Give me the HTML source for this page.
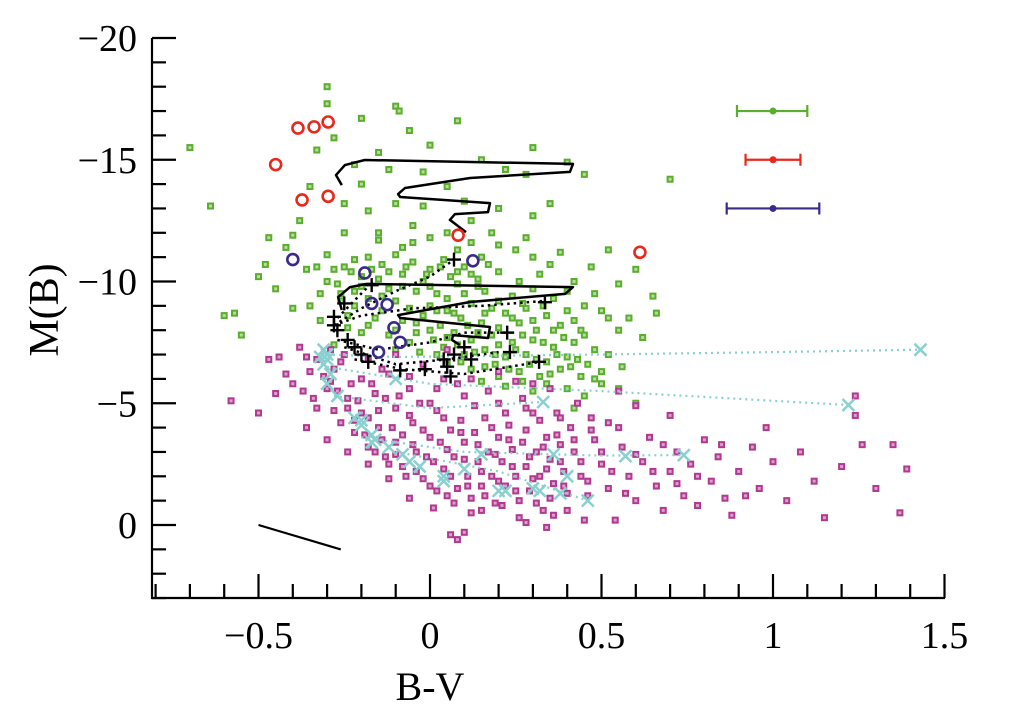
<!DOCTYPE html>
<html><head><meta charset="utf-8"><style>
html,body{margin:0;padding:0;background:#fff;}
svg{display:block;font-family:"Liberation Serif",serif;}
</style></head><body>
<svg id="chart" width="1027" height="724" viewBox="0 0 1027 724" xmlns="http://www.w3.org/2000/svg">
<g id="marks"></g>
<g id="axes"></g>
</svg>
<script>
const xTicks=[-0.5,0,0.5,1,1.5];
const xTickLabels=["\u22120.5","0","0.5","1","1.5"];
const yTicks=[-20,-15,-10,-5,0];
const yTickLabels=["\u221220","\u221215","\u221210","\u22125","0"];
const greenPts=[[-0.7,-15.5],[-0.64,-13.1],[-0.57,-8.7],[-0.5,-10.2],[-0.47,-11.8],[-0.48,-10.7],[-0.42,-11.4],[-0.38,-12.5],[-0.35,-13.9],[-0.33,-15.4],[-0.3,-18.0],[-0.3,-17.3],[-0.28,-15.9],[-0.2,-16.7],[-0.1,-17.2],[-0.09,-17.0],[-0.06,-16.2],[0.08,-16.6],[0.0,-15.6],[-0.15,-15.3],[-0.22,-14.8],[-0.12,-14.6],[-0.02,-14.5],[0.05,-13.9],[0.15,-15.0],[0.22,-14.6],[0.28,-14.4],[0.35,-13.2],[0.4,-14.9],[0.45,-14.4],[0.7,-14.2],[0.52,-11.3],[0.6,-10.5],[0.65,-9.4],[0.66,-8.7],[0.55,-9.9],[0.5,-8.8],[0.42,-10.0],[0.38,-11.2],[0.30,-12.7],[0.25,-11.3],[0.18,-12.0],[0.12,-12.5],[-0.05,-12.3],[-0.1,-13.2],[-0.18,-12.9],[-0.25,-12.0],[-0.3,-11.1],[-0.33,-10.6],[-0.36,-10.5],[-0.45,-9.7],[-0.6,-8.6],[-0.55,-7.8],
[-0.25,-10.6],[-0.22,-10.9],[-0.18,-11.0],[-0.14,-10.7],[-0.1,-11.1],[-0.05,-10.8],[0.0,-10.5],[0.04,-10.9],[0.1,-10.6],[-0.2,-10.2],[-0.15,-10.1],[-0.08,-10.3],[-0.02,-10.0],[0.06,-10.2],[0.14,-10.1],[0.2,-10.4],[0.26,-10.0],[0.32,-10.3],[-0.27,-9.9],[-0.22,-9.6],[-0.12,-9.7],[-0.04,-9.6],[0.02,-9.5],[0.08,-9.9],[0.16,-9.6],[0.24,-9.4],[0.3,-9.7],[0.36,-9.3],[-0.26,-9.2],[-0.18,-9.3],[-0.1,-9.2],[-0.06,-8.9],[0.0,-9.0],[0.05,-8.8],[0.12,-9.1],[0.18,-8.9],[0.22,-8.7],[0.28,-8.9],[0.34,-8.6],[0.4,-8.8],[-0.24,-8.6],[-0.16,-8.5],[-0.08,-8.4],[-0.02,-8.6],[0.03,-8.2],[0.09,-8.5],[0.15,-8.3],[0.2,-8.1],[0.26,-8.3],[0.31,-8.0],[0.38,-8.2],[0.44,-8.0],[-0.2,-7.9],[-0.12,-7.8],[-0.04,-7.9],[0.01,-7.6],[0.07,-7.9],[0.12,-7.6],[0.18,-7.8],[0.24,-7.5],[0.3,-7.6],[0.36,-7.3],[0.42,-7.5],[0.48,-7.2],[-0.1,-7.2],[-0.03,-7.1],[0.04,-7.3],[0.1,-7.0],[0.16,-7.2],[0.22,-6.9],[0.28,-7.0],[0.34,-6.7],[0.4,-6.9],[0.46,-6.6],[0.52,-7.0],[0.05,-6.6],[0.12,-6.4],[0.19,-6.6],[0.26,-6.3],[0.32,-6.1],[0.38,-6.4],[0.44,-6.1],[0.5,-6.3],[0.56,-6.5],[0.15,-5.9],[0.22,-5.7],[0.3,-5.5],[0.45,-5.3],[0.55,-5.6],[0.6,-5.0],[0.42,-4.8],[-0.3,-10.0],[-0.35,-9.0],[-0.4,-8.9],[-0.32,-8.4],[-0.28,-7.4],[0.48,-9.5],[0.58,-8.5],[0.62,-7.7],[0.55,-8.0],[0.47,-10.6],[0.2,-11.5],[0.28,-11.8],[-0.05,-11.6],[0.08,-11.3],[-0.15,-11.7],
[-0.23,-10.4],[-0.17,-10.5],[-0.12,-10.4],[-0.07,-10.6],[-0.01,-10.3],[0.03,-10.6],[0.08,-10.4],[0.12,-10.3],[0.17,-10.7],[-0.26,-9.5],[-0.2,-9.8],[-0.14,-9.4],[-0.08,-9.8],[0.0,-9.8],[0.05,-9.3],[0.1,-9.5],[0.14,-9.8],[0.2,-9.2],[0.27,-9.1],[0.33,-9.0],[-0.22,-9.0],[-0.14,-8.8],[-0.04,-8.3],[0.02,-8.8],[0.07,-8.7],[0.11,-8.2],[0.16,-8.7],[0.24,-8.5],[0.3,-8.4],[0.36,-8.0],[0.42,-8.4],[-0.18,-8.2],[-0.1,-8.0],[0.0,-8.0],[0.05,-7.7],[0.14,-7.9],[0.2,-7.4],[0.27,-7.8],[0.33,-7.5],[0.39,-7.7],[0.45,-7.8],[-0.06,-7.5],[0.02,-7.0],[0.08,-7.4],[0.13,-7.1],[0.19,-7.0],[0.25,-7.2],[0.31,-6.8],[0.37,-7.0],[0.43,-6.8],[0.09,-6.7],[0.16,-6.5],[0.23,-6.4],[0.29,-6.6],[0.35,-6.2],[0.41,-6.5],[0.48,-6.0],[0.2,-6.1],[0.27,-5.9],[0.34,-5.8],[0.4,-5.6],[0.5,-5.8],[-0.15,-12.0],[0.0,-11.8],[0.12,-11.6],[0.3,-11.0],[0.15,-11.0],[-0.08,-11.4],[0.35,-10.7],[0.4,-9.6],[0.45,-9.0],[0.52,-8.5],[-0.28,-10.5],[-0.32,-9.5],[-0.24,-8.1],[0.1,-13.3],[0.2,-13.0],[-0.02,-13.1],[-0.2,-14.0],[0.3,-15.5],[0.05,-12.0],[-0.25,-13.2],[-0.4,-11.9]];
const magentaPts=[[-0.58,-5.1],[-0.5,-4.6],[-0.47,-6.8],[-0.44,-6.9],[-0.4,-5.8],[-0.38,-7.3],[-0.35,-6.3],[-0.33,-4.8],[-0.3,-5.6],[-0.3,-3.5],[-0.28,-6.4],[-0.26,-4.2],[-0.24,-5.2],[-0.22,-3.8],[-0.2,-6.0],[-0.2,-4.6],[-0.18,-3.2],[-0.16,-5.4],[-0.15,-4.0],[-0.13,-2.8],[-0.12,-6.2],[-0.1,-4.8],[-0.1,-3.4],[-0.08,-2.4],[-0.06,-5.6],[-0.05,-4.2],[-0.04,-3.0],[-0.02,-1.9],[0.0,-5.0],[0.0,-3.6],[0.01,-2.6],[0.02,-1.4],[0.04,-4.4],[0.05,-3.1],[0.06,-2.0],[0.07,-0.9],[0.08,-5.8],[0.09,-3.8],[0.1,-2.7],[0.11,-1.6],[0.12,-0.5],[0.13,-4.9],[0.14,-3.3],[0.15,-2.2],[0.16,-1.2],[0.17,-5.5],[0.18,-4.0],[0.19,-2.9],[0.2,-1.8],[0.21,-0.8],[0.22,-4.6],[0.23,-3.5],[0.24,-2.4],[0.25,-1.4],[0.26,-0.3],[0.27,-5.2],[0.28,-3.9],[0.29,-2.8],[0.3,-1.9],[0.31,-0.9],[0.32,-4.3],[0.33,-3.2],[0.34,-2.3],[0.35,-1.1],[0.36,-0.4],[0.37,-3.7],[0.38,-2.6],[0.39,-1.6],[0.4,-0.6],[0.41,-4.0],[0.42,-3.0],[0.44,-2.0],[0.46,-1.2],[0.48,-3.5],[0.5,-2.5],[0.52,-1.5],[0.54,-0.2],[0.56,-3.2],[0.58,-2.0],[0.6,-1.0],[0.62,-2.6],[0.64,-3.6],[0.66,-1.6],[0.68,-0.6],[0.7,-2.2],[0.72,-3.0],[0.74,-1.2],[0.76,-2.5],[0.78,-0.8],[0.8,-3.5],[0.82,-1.8],[0.84,-2.8],[0.86,-1.1],[0.88,-0.4],[0.9,-2.2],[0.94,-3.2],[0.96,-1.5],[1.0,-2.6],[1.04,-1.0],[1.08,-3.0],[1.12,-1.8],[1.15,-0.3],[1.2,-2.4],[1.24,-4.5],[1.26,-3.3],[1.3,-1.5],[1.35,-3.3],[1.37,-0.5],[1.39,-2.3],[1.24,-5.3],[0.98,-4.0],[0.7,-4.5],[0.6,-4.9],[0.55,-5.5],[-0.25,-7.0],[-0.18,-6.8],[-0.1,-7.0],[-0.02,-6.6],[0.05,-7.2],[0.12,-6.0],[0.2,-6.3],[0.3,-5.8],[0.15,-0.6],[0.08,0.6],[0.1,0.3],[0.06,0.4],[0.01,-0.7],[-0.06,-1.1],[-0.12,-1.9],[-0.18,-2.5],[-0.24,-3.0],[-0.28,-4.7],[-0.34,-5.2],[-0.36,-4.0],[0.43,-5.0],[0.47,-4.4],[0.52,-4.2],[0.35,-5.6],[0.25,-5.9],[0.45,-0.2],[0.34,0.1],[0.28,-0.1],
[-0.33,-6.8],[-0.31,-6.1],[-0.29,-5.9],[-0.27,-5.5],[-0.26,-6.7],[-0.24,-4.8],[-0.23,-5.8],[-0.22,-4.3],[-0.21,-5.1],[-0.19,-3.7],[-0.18,-4.4],[-0.17,-5.8],[-0.16,-3.0],[-0.15,-4.7],[-0.14,-3.5],[-0.13,-5.2],[-0.12,-2.5],[-0.11,-4.0],[-0.1,-2.9],[-0.09,-5.3],[-0.08,-3.7],[-0.07,-2.0],[-0.06,-4.5],[-0.05,-3.3],[-0.04,-2.2],[-0.03,-5.0],[-0.02,-3.9],[-0.01,-2.8],[0.0,-1.6],[0.02,-4.7],[0.03,-3.4],[0.04,-2.3],[0.05,-1.2],[0.06,-3.9],[0.07,-2.8],[0.08,-1.5],[0.09,-4.3],[0.1,-3.4],[0.11,-2.0],[0.12,-1.1],[0.13,-3.8],[0.14,-2.6],[0.15,-1.6],[0.16,-4.4],[0.17,-3.0],[0.18,-2.0],[0.19,-0.9],[0.2,-3.6],[0.21,-2.6],[0.22,-1.6],[0.23,-4.1],[0.24,-3.1],[0.25,-2.0],[0.26,-1.0],[0.27,-3.4],[0.28,-2.4],[0.29,-1.4],[0.3,-4.6],[0.31,-3.0],[0.32,-2.0],[0.33,-0.6],[0.34,-3.6],[0.35,-2.7],[0.36,-1.7],[0.37,-4.6],[0.38,-3.3],[0.39,-2.2],[0.4,-1.3],[0.42,-3.5],[0.44,-2.6],[0.46,-1.8],[0.5,-3.0],[0.53,-2.2],[0.57,-1.3],[0.6,-2.9],[0.65,-2.2],[0.68,-3.3],[0.72,-1.7],[0.78,-2.0],[0.85,-3.3],[0.92,-1.2],[-0.42,-6.2],[-0.37,-5.5],[-0.45,-5.4],[-0.36,-6.9],[-0.29,-7.2],[0.02,-5.6],[0.1,-5.3],[0.2,-5.0],[0.28,-4.8],[0.38,-4.4],[0.47,-3.9],[0.55,-4.0],[-0.14,-6.4],[-0.06,-6.1],[0.04,-6.0]];
const redCircles=[[-0.45,-14.8],[-0.385,-16.3],[-0.338,-16.35],[-0.297,-16.55],[-0.373,-13.35],[-0.297,-13.5],[0.082,-11.9],[0.612,-11.2]];
const blueCircles=[[-0.40,-10.9],[-0.19,-10.35],[-0.17,-9.1],[-0.125,-9.05],[-0.105,-8.1],[-0.087,-7.5],[-0.15,-7.1],[0.125,-10.85]];
const trackUpper=[[-0.257,-13.96],[-0.274,-14.37],[-0.248,-14.78],[-0.19,-14.99],[0.417,-14.83],[0.408,-14.5],[0.117,-14.25],[-0.073,-13.84],[-0.093,-13.59],[-0.087,-13.47],[0.175,-13.22],[0.169,-12.85],[0.073,-12.77],[0.058,-12.53],[0.105,-12.03]];
const trackLower=[[-0.257,-8.83],[-0.268,-9.36],[-0.233,-9.77],[-0.184,-9.9],[0.417,-9.77],[0.394,-9.49],[0.117,-9.16],[-0.093,-8.62],[-0.087,-8.5],[0.175,-8.13],[0.169,-7.68],[0.067,-7.8],[0.064,-7.6],[0.087,-7.39]];
const reddeningVector=[[-0.5,0],[-0.26,1.0]];
const dotTracks=[
 [[-0.28,-8.2],[-0.2,-8.9],[-0.1,-9.6],[0.0,-10.2],[0.07,-10.9]],
 [[-0.28,-8.2],[-0.2,-8.6],[-0.05,-8.9],[0.15,-9.0],[0.33,-9.2]],
 [[-0.27,-7.6],[-0.15,-7.2],[0.0,-7.5],[0.1,-7.9],[0.22,-7.9]],
 [[-0.25,-7.3],[-0.1,-6.6],[0.05,-6.8],[0.2,-7.1]],
 [[-0.22,-6.8],[-0.08,-6.4],[0.1,-6.2],[0.32,-6.7]],
 [[-0.27,-8.5],[-0.18,-9.8]]];
const plusPts=[[0.07,-10.9],[-0.17,-9.85],[-0.25,-9.1],[-0.28,-8.55],[-0.28,-8.2],[-0.27,-8.0],[0.335,-9.15],[0.225,-7.9],[0.233,-7.1],[0.318,-6.7],[0.1,-7.3],[0.07,-7.0],[0.04,-6.8],[-0.015,-6.4],[-0.087,-6.35],[0.05,-6.5],[0.06,-6.1],[0.12,-6.8],[-0.24,-7.6],[-0.22,-7.3],[-0.2,-7.0],[-0.18,-6.7]];
const cyanTracks=[
 [[-0.3,-7.0],[-0.1,-6.9],[0.5,-7.0],[1.0,-7.1],[1.43,-7.2]],
 [[-0.3,-6.5],[0.0,-5.8],[0.5,-5.5],[1.0,-5.1],[1.22,-4.93]],
 [[-0.28,-5.3],[0.0,-4.8],[0.33,-5.05]],
 [[-0.2,-3.6],[0.1,-3.0],[0.5,-2.85],[0.74,-2.87]],
 [[-0.1,-3.0],[0.2,-2.2],[0.46,-1.0]]];
const cyanX=[[-0.3,-7.0],[-0.31,-6.6],[-0.29,-6.2],[-0.3,-5.8],[-0.27,-5.3],[-0.22,-4.4],[-0.2,-4.1],[-0.17,-3.7],[-0.16,-3.5],[-0.12,-3.2],[-0.08,-2.9],[-0.06,-2.6],[-0.03,-2.4],[0.04,-2.0],[0.04,-1.8],[0.1,-2.3],[0.2,-1.4],[0.22,-1.4],[0.3,-1.5],[0.32,-1.4],[0.38,-1.3],[0.4,-2.0],[0.46,-1.0],[0.33,-5.05],[1.22,-4.93],[1.43,-7.2],[0.74,-2.87],[0.57,-2.83],[0.36,-2.9],[0.15,-2.9],[-0.1,-6.0],[-0.32,-6.9],[-0.3,-6.8],[-0.31,-7.2],[-0.17,-3.4],[-0.2,-4.3]];
const errCenters=[1.0,1.0,1.0];
const errMags=[-17,-15,-13];
const errLo=[0.895,0.92,0.865];
const errHi=[1.10,1.08,1.135];
const errColors=["#5aae2e","#e8281a","#3a2b8a"];

const NS="http://www.w3.org/2000/svg";
const X=v=>430+343*v;
const Y=v=>525+24.35*v;
const marks=document.getElementById('marks');
const axes=document.getElementById('axes');
function mk(tag,attrs,parent){const e=document.createElementNS(NS,tag);for(const k in attrs)e.setAttribute(k,attrs[k]);(parent||marks).appendChild(e);return e;}
function pathD(pts){return pts.map((p,i)=>(i?'L':'M')+X(p[0]).toFixed(1)+','+Y(p[1]).toFixed(1)).join(' ');}

greenPts.forEach(p=>{const e=mk('rect',{x:X(p[0])-2.5,y:Y(p[1])-2.5,width:5,height:5,fill:'#b7dc9c',stroke:'#5aae2e','stroke-width':2});

});
magentaPts.forEach(p=>{const e=mk('rect',{x:X(p[0])-2.5,y:Y(p[1])-2.5,width:5,height:5,fill:'#dca0cc',stroke:'#b03a90','stroke-width':2});

});
cyanTracks.forEach(t=>{const e=mk('path',{d:pathD(t),fill:'none',stroke:'#8ad0d0','stroke-width':2.2,'stroke-dasharray':'2 4'});

});
cyanX.forEach(p=>{const cx=X(p[0]),cy=Y(p[1]);const e=mk('path',{d:`M${cx-6},${cy-6}L${cx+6},${cy+6}M${cx-6},${cy+6}L${cx+6},${cy-6}`,stroke:'#8ad0d0','stroke-width':2.5,fill:'none'});

});
[trackUpper,trackLower].forEach(t=>{const e=mk('path',{d:pathD(t),fill:'none',stroke:'#000','stroke-width':2.5,'stroke-linejoin':'round'});

});
dotTracks.forEach(t=>{const e=mk('path',{d:pathD(t),fill:'none',stroke:'#000','stroke-width':2.5,'stroke-dasharray':'2.5 4'});

});
plusPts.forEach(p=>{const cx=X(p[0]),cy=Y(p[1]);const e=mk('path',{d:`M${cx-7},${cy}L${cx+7},${cy}M${cx},${cy-7}L${cx},${cy+7}`,stroke:'#000','stroke-width':2.4,fill:'none'});

});
redCircles.forEach(p=>{const e=mk('circle',{cx:X(p[0]),cy:Y(p[1]),r:5.5,fill:'none',stroke:'#e8281a','stroke-width':2.6});

});
blueCircles.forEach(p=>{const e=mk('circle',{cx:X(p[0]),cy:Y(p[1]),r:5.5,fill:'none',stroke:'#3a2b8a','stroke-width':2.6});

});
{const e=mk('path',{d:pathD(reddeningVector),stroke:'#000','stroke-width':2.2,fill:'none'});

}
errMags.forEach((m,i)=>{const y=Y(m),a=X(errLo[i]),b=X(errHi[i]),c=errColors[i];
const e=mk('path',{d:`M${a},${y}L${b},${y}M${a},${y-6}L${a},${y+6}M${b},${y-6}L${b},${y+6}`,stroke:c,'stroke-width':2.2,fill:'none'});


const d=mk('circle',{cx:X(errCenters[i]),cy:y,r:3.5,fill:c});

});

const L=152,B=598,R=945,T=38;
{const e=mk('path',{d:`M${L},${T}L${L},${B}L${R},${B}`,stroke:'#000','stroke-width':2.2,fill:'none'},axes);

}
for(let k=-8;k<=15;k++){const v=k/10,x=X(v);if(x<L+1)continue;const major=k%5===0;
const e=mk('line',{x1:x,x2:x,y1:B,y2:B-(major?24:14),stroke:'#000','stroke-width':2.2},axes);

}
for(let v=-20;v<=3;v++){const y=Y(v);const major=v%5===0;
const e=mk('line',{x1:L,x2:L+(major?24:14),y1:y,y2:y,stroke:'#000','stroke-width':2.2},axes);

}
xTicks.forEach((v,i)=>{const t=mk('text',{x:X(v),y:648,'text-anchor':'middle','font-size':38,fill:'#000'},axes);t.textContent=xTickLabels[i];

});
yTicks.forEach((v,i)=>{const t=mk('text',{x:137,y:Y(v)+13,'text-anchor':'end','font-size':38,fill:'#000'},axes);t.textContent=yTickLabels[i];

});
{const t=mk('text',{x:430,y:700,'text-anchor':'middle','font-size':40,fill:'#000'},axes);t.textContent='B-V';

}
{const t=mk('text',{x:58,y:310,'text-anchor':'middle','font-size':42,fill:'#000',transform:'rotate(-90 58 310)'},axes);t.textContent='M(B)';

}
</script>
</body></html>
